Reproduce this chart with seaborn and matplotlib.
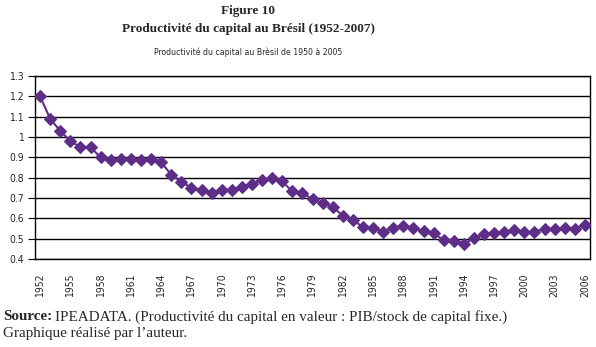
import matplotlib
matplotlib.use("Agg")
import matplotlib.pyplot as plt
import numpy as np
import pandas as pd
import seaborn as sns

years = list(range(1952, 2007))
productivite = [1.20, 1.09, 1.03, 0.98, 0.95, 0.95, 0.90, 0.885, 0.89, 0.89,
                0.885, 0.89, 0.875, 0.815, 0.78, 0.75, 0.74, 0.725, 0.737, 0.738,
                0.755, 0.77, 0.787, 0.80, 0.782, 0.732, 0.724, 0.695, 0.674, 0.657,
                0.612, 0.592, 0.557, 0.554, 0.533, 0.554, 0.562, 0.554, 0.536, 0.529,
                0.491, 0.488, 0.474, 0.502, 0.521, 0.529, 0.533, 0.541, 0.533, 0.533,
                0.549, 0.549, 0.552, 0.549, 0.569]
y_ticks = [0.4, 0.5, 0.6, 0.7, 0.8, 0.9, 1.0, 1.1, 1.2, 1.3]

df = pd.DataFrame({"idx": np.arange(len(years)), "year": years, "value": productivite})

sns.set_style("white")
plt.rcParams["font.family"] = ["DejaVu Sans"]

cond = dict(family="DejaVu Sans", stretch="condensed")
serif = ["Liberation Serif", "DejaVu Serif"]

fig = plt.figure(figsize=(5.96, 3.47), dpi=100)
ax = fig.add_axes([35 / 596, 1 - 259 / 347, 555 / 596, 183 / 347])

sns.lineplot(data=df, x="idx", y="value", ax=ax, color="#5e2d87", marker="D",
             markersize=6.5, markeredgecolor="#5e2d87", linewidth=1.5, zorder=3)

ax.set_xlim(-0.5, len(years) - 0.5)
ax.set_ylim(0.4, 1.3)
ax.set_yticks(y_ticks)
ax.set_yticklabels([f"{v:g}" for v in y_ticks], fontsize=7.5, **cond)
ax.yaxis.grid(True, color="black", linewidth=1)
ax.set_axisbelow(True)

# labels every 3 years, tick marks between categories
lab_idx = df["idx"][::3]
ax.set_xticks(lab_idx)
ax.set_xticklabels(df["year"][::3], rotation=90, fontsize=7.5, **cond)
ax.set_xticks(np.arange(-0.5, len(years)), minor=True)
ax.tick_params(axis="x", which="major", length=0, pad=10.5)
ax.tick_params(axis="x", which="minor", length=4, width=0.8, direction="out", color="black")
ax.tick_params(axis="y", length=5, width=0.8, direction="out", color="black", left=True, pad=3)
for s in ax.spines.values():
    s.set_color("black")
    s.set_linewidth(1)
ax.set_xlabel("")
ax.set_ylabel("")

cx = 248 / 596
fig.text(cx, 1 - 11 / 347, "Figure 10", ha="center", va="center",
         fontsize=9.5, fontweight="bold", family=serif)
fig.text(cx, 1 - 29 / 347, "Productivité du capital au Brésil (1952-2007)", ha="center",
         va="center", fontsize=9.5, fontweight="bold", family=serif)
fig.text(cx, 1 - 52 / 347, "Productivité du capital au Brèsil de 1950 à 2005", ha="center",
         va="center", fontsize=6.2, **cond)

src = fig.text(3 / 596, 1 - 317 / 347, "Source:", ha="left", va="center", fontsize=10.9,
               fontweight="bold", family=serif)
ax.annotate("IPEADATA. (Productivité du capital en valeur : PIB/stock de capital fixe.)",
            xy=(1, 0.5), xycoords=src, xytext=(2, 0), textcoords="offset points",
            ha="left", va="center", fontsize=10.9, family=serif, annotation_clip=False)
fig.text(3 / 596, 1 - 333 / 347, "Graphique réalisé par l’auteur.", ha="left",
         va="center", fontsize=10.9, family=serif)

plt.savefig("out.png", dpi=100)
plt.close("all")
